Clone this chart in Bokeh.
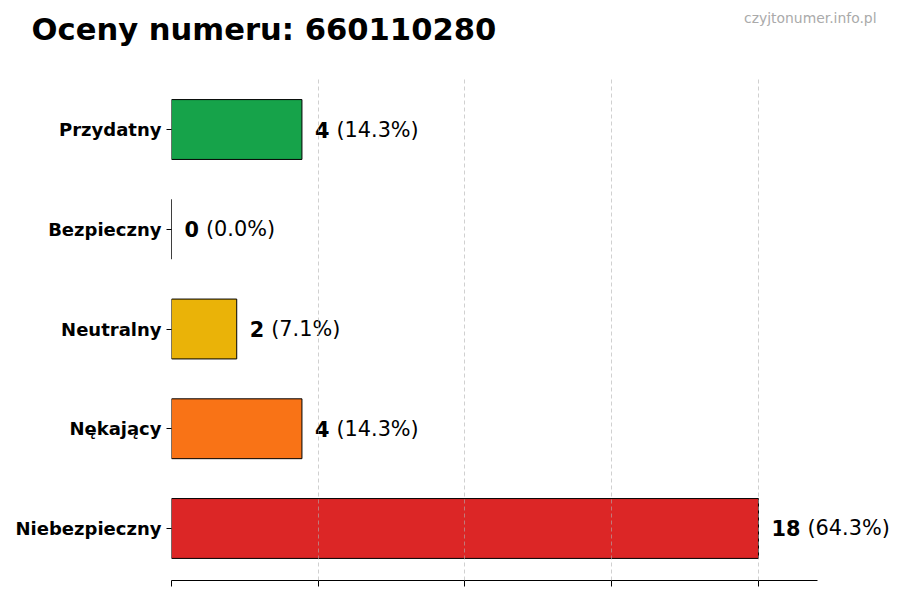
from bokeh.plotting import figure
from bokeh.models import FactorRange, Range1d, FixedTicker, ColumnDataSource
from bokeh.core.properties import value
from bokeh.embed import file_html
from bokeh.resources import INLINE

categories = ["Przydatny", "Bezpieczny", "Neutralny", "Nękający", "Niebezpieczny"]
counts = [4, 0, 2, 4, 18]
colors = ["#16a34a", "#9ca3af", "#eab308", "#f97316", "#dc2626"]
x_ticks = [0, 4.5, 9, 13.5, 18]
title_text = "Oceny numeru: 660110280"
watermark = "czyjtonumer.info.pl"

total = sum(counts)
num_txt = [str(c) for c in counts]
pct_txt = [f"({c / total * 100:.1f}%)" for c in counts]
num_w = 14.5  # px per bold digit at 20.8px
pct_off = [13 + len(s) * num_w + 7 for s in num_txt]

src = ColumnDataSource(dict(cat=categories, count=counts, color=colors,
                            num=num_txt, pct=pct_txt, pct_off=pct_off))

FONT = "DejaVu Sans"
W = 892
HEAD_H = 77
axis_end = max(counts) * 1.1

# ---- header (title + watermark), pixel coordinates, y downward ----
head = figure(width=W, height=HEAD_H, x_range=Range1d(0, W), y_range=Range1d(HEAD_H, 0),
              x_axis_type=None, y_axis_type=None, output_backend="svg",
              toolbar_location=None, min_border=0)
head.outline_line_color = None
head.grid.grid_line_color = None
head.text(x=[31], y=[29.4], text=[title_text], text_font=value(FONT),
          text_font_style="bold", text_font_size="30.6px", text_baseline="middle",
          text_align="left", text_color="black")
head.text(x=[876], y=[17.7], text=[watermark], text_font=value(FONT),
          text_font_size="13.9px", text_baseline="middle",
          text_align="right", text_color="#aaaaaa")

# ---- main chart ----
p = figure(width=W, height=513,
           y_range=FactorRange(factors=categories[::-1], range_padding=0.0086),
           x_range=Range1d(0, 22.11),
           output_backend="svg", toolbar_location=None,
           min_border_left=171, min_border_right=0, min_border_top=0, min_border_bottom=10)
p.outline_line_color = None
p.background_fill_color = "white"

p.hbar(y="cat", right="count", left=0, height=0.6, fill_color="color",
       line_color="black", line_width=1, source=src)

p.text(x="count", y="cat", text="num", x_offset=13, text_font=value(FONT),
       text_font_style="bold", text_font_size="20.8px", text_baseline="middle",
       text_align="left", text_color="black", source=src)
p.text(x="count", y="cat", text="pct", x_offset="pct_off", text_font=value(FONT),
       text_font_size="20.8px", text_baseline="middle",
       text_align="left", text_color="black", source=src)

ya = p.yaxis[0]
ya.axis_line_color = None
ya.major_tick_out = 5
ya.major_tick_in = 0
ya.major_tick_line_color = "black"
ya.major_label_standoff = 5
ya.major_label_text_font = FONT
ya.major_label_text_font_size = "18px"
ya.major_label_text_font_style = "bold"
ya.major_label_text_color = "black"

xa = p.xaxis[0]
xa.ticker = FixedTicker(ticks=x_ticks)
xa.bounds = (0, axis_end)
xa.major_label_overrides = {t: "" for t in x_ticks}
xa.major_label_text_font_size = "1px"
xa.major_label_standoff = 0
xa.major_tick_out = 6
xa.major_tick_in = 0
xa.minor_tick_line_color = None
xa.axis_line_color = "black"
xa.major_tick_line_color = "black"

p.xgrid.ticker = FixedTicker(ticks=x_ticks)
p.xgrid.grid_line_color = "#b0b0b0"
p.xgrid.grid_line_alpha = 0.6
p.xgrid.grid_line_dash = "4 3"
p.xgrid.level = "overlay"
p.ygrid.grid_line_color = None

open("out.html", "w").write(file_html([head, p], INLINE))
